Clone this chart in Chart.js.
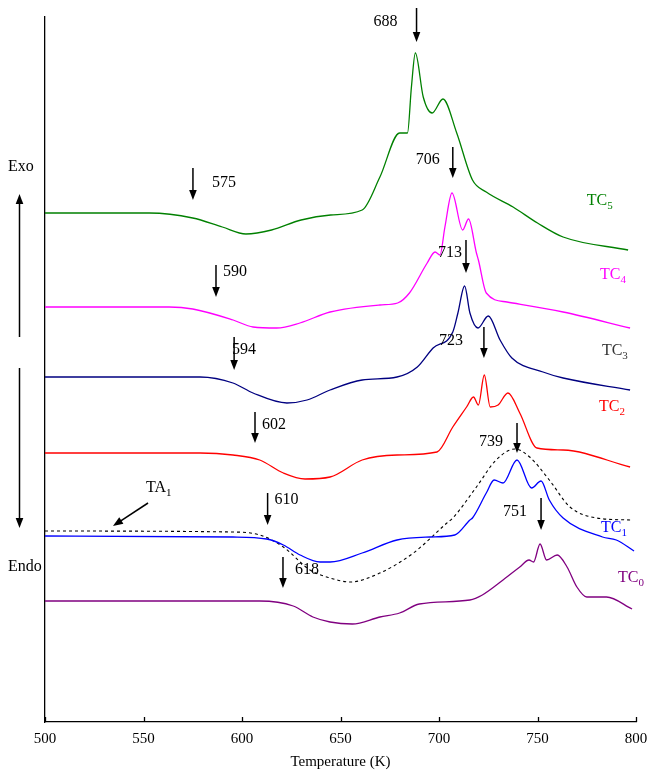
<!DOCTYPE html>
<html>
<head>
<meta charset="utf-8">
<script src="https://cdn.jsdelivr.net/npm/chart.js@4.4.0/dist/chart.umd.min.js"></script>
<style>
  html, body { margin: 0; padding: 0; background: #fff; }
  #wrap { width: 648px; height: 771px; }
</style>
</head>
<body>
<div id="wrap"><canvas id="dsc" width="648" height="771"></canvas></div>
<script>
// Temperature (K) and heat-flow signal (arbitrary units, curves stacked with offsets)
const tc5T = [500, 530, 553, 575, 590, 602, 615, 630, 645, 661, 670, 680, 684, 686, 688, 692, 696.5, 702, 709, 717, 724, 737.6, 750, 763, 796];
const tc5Y = [509, 509, 509, 504, 495, 488, 492, 502, 507, 512, 545, 589, 589, 635, 669, 625, 609, 623, 589, 542, 530, 515, 499, 485, 472];

const tc4T = [500, 563, 575, 595.5, 605.6, 617.6, 629.4, 644.7, 670, 679, 685, 694, 698, 700.5, 703, 706.6, 712, 715, 719, 720, 724, 734.5, 763, 797];
const tc4Y = [415, 415, 413, 402, 395, 394, 399, 410, 417, 419, 429, 459, 470, 467, 495, 529, 492, 503, 469, 462, 429, 420, 410, 394];

const tc3T = [500, 578.7, 595.4, 605.6, 622.8, 633, 644.7, 661, 678.7, 689, 697, 707, 709.6, 713, 715.7, 719.8, 725, 731, 737, 752.8, 763, 797];
const tc3Y = [345, 345, 339, 329, 319, 322, 332, 342, 345, 355, 374, 390, 409, 436, 409, 394, 406, 382, 364, 350, 344, 332];

const tc2T = [500, 578.7, 595.4, 609, 621, 632, 644.7, 661, 678.7, 699, 707, 714, 717.5, 720, 723, 726, 730, 735, 741, 749.7, 763, 797];
const tc2Y = [269, 269, 267, 262, 249, 243, 245, 262, 267, 270, 295, 315, 325, 317, 347, 315, 317, 329, 309, 274, 272, 255];

const tc1T = [500, 595.4, 612.5, 621, 629.5, 639.6, 644.7, 661, 678.7, 695.4, 708, 715.7, 717, 724, 728, 732.5, 739.6, 747, 751.8, 756, 763, 783, 790, 799];
const tc1Y = [186, 185, 183, 177, 167, 160, 160, 169, 182, 185, 187, 202, 204, 229, 242, 239, 262, 234, 241, 222, 204, 185, 182, 171];

const ta1T = [500, 595, 609, 621, 634.5, 644.7, 654.8, 670, 687, 704, 707, 719, 729, 738.6, 746, 756, 766.5, 780, 797];
const ta1Y = [191, 190, 187, 175, 152, 144, 140, 149, 169, 199, 204, 235, 262, 273, 265, 242, 215, 204, 202];

const tc0T = [500, 609, 626, 636, 644.7, 656, 670, 680, 690, 715.7, 722, 732.5, 741, 745.7, 748, 751.3, 754.6, 760, 765, 770, 775, 785, 798];
const tc0Y = [121, 121, 116, 105, 100, 98, 105, 109, 118, 122, 127, 142, 155, 162, 160, 178, 162, 167, 155, 135, 125, 125, 113];

const xTicks = [500, 550, 600, 650, 700, 750, 800];

// marked temperatures: arrow position (t), arrow top and tip on the signal scale
const markT     = [688.6, 575.1, 707, 586.8, 713.7, 596, 722.8, 606.6, 613, 739.6, 751.8, 620.8];
const markTop   = [714, 554, 575, 457, 482, 385, 395, 310, 229, 299, 224, 165];
const markTip   = [680, 522, 544, 425, 449, 352, 364, 279, 197, 269, 192, 134];
const markText  = ['688', '575', '706', '590', '713', '594', '723', '602', '610', '739', '751', '618'];

// curve names
const curveNames = ['TC', 'TC', 'TC', 'TC', 'TC', 'TC', 'TA'];
const curveSubs  = ['5', '4', '3', '2', '1', '0', '1'];
const nameT      = [775, 781.7, 782.7, 781.2, 782.2, 790.9, 551.3];
const nameY      = [521, 447, 371, 315, 194, 144, 234];

const toPts = (xs, ys) => xs.map((x, i) => ({ x: x, y: ys[i] }));

const FONT = '"Liberation Serif", "Times New Roman", serif';

function line(label, xs, ys, color, dash) {
    return {
        label,
        data: toPts(xs, ys),
        borderColor: color,
        borderWidth: dash ? 1.1 : 1.3,
        borderDash: dash || [],
        pointRadius: 0,
        cubicInterpolationMode: 'monotone',
        fill: false
    };
}

function arrow(ctx, x1, y1, x2, y2) {
    const a = Math.atan2(y2 - y1, x2 - x1);
    const len = 10, w = 3.8;
    ctx.beginPath();
    ctx.moveTo(x1, y1);
    ctx.lineTo(x2 - Math.cos(a) * (len - 2), y2 - Math.sin(a) * (len - 2));
    ctx.stroke();
    ctx.beginPath();
    ctx.moveTo(x2, y2);
    ctx.lineTo(x2 - Math.cos(a) * len - Math.sin(a) * w, y2 - Math.sin(a) * len + Math.cos(a) * w);
    ctx.lineTo(x2 - Math.cos(a) * len + Math.sin(a) * w, y2 - Math.sin(a) * len - Math.cos(a) * w);
    ctx.closePath();
    ctx.fill();
}

// label offsets relative to arrow top (px)
const markDx    = [-19, 19, -13, 7, -4, -2, -21, 7, 7, -14, -14, 12];
const markDy    = [14, 15, 13, 7, 13, 13, 14, 13, 7, 19, 14, 13];
const markAlign = ['right', 'left', 'right', 'left', 'right', 'left', 'right', 'left', 'left', 'right', 'right', 'left'];
const nameColors = ['#008000', '#ff00ff', '#333333', '#ff0000', '#0000ff', '#800080', '#000000'];

const annotations = {
    id: 'annotations',
    afterDatasetsDraw(chart) {
        const ctx = chart.ctx;
        const xs = chart.scales.x, ys = chart.scales.y;
        const area = chart.chartArea;
        ctx.save();
        ctx.strokeStyle = '#000';
        ctx.fillStyle = '#000';
        ctx.lineWidth = 1.3;

        // inward tick marks on the temperature axis
        xTicks.forEach(t => {
            const px = Math.round(xs.getPixelForValue(t)) + 0.5;
            ctx.beginPath();
            ctx.moveTo(px, area.bottom);
            ctx.lineTo(px, area.bottom - 5);
            ctx.stroke();
        });

        // peak / onset arrows
        ctx.font = '16px ' + FONT;
        ctx.textBaseline = 'middle';
        markT.forEach((t, i) => {
            const px = xs.getPixelForValue(t);
            const top = ys.getPixelForValue(markTop[i]);
            const tip = ys.getPixelForValue(markTip[i]);
            ctx.lineWidth = 1.5;
            arrow(ctx, px, top, px, tip);
            ctx.textAlign = markAlign[i];
            ctx.fillText(markText[i], px + markDx[i], top + markDy[i]);
        });

        // curve names with subscripts
        curveNames.forEach((n, i) => {
            const px = xs.getPixelForValue(nameT[i]);
            const py = ys.getPixelForValue(nameY[i]);
            ctx.fillStyle = nameColors[i];
            ctx.textAlign = 'left';
            ctx.font = '16px ' + FONT;
            ctx.fillText(n, px, py);
            const w = ctx.measureText(n).width;
            ctx.font = '11px ' + FONT;
            ctx.fillText(curveSubs[i], px + w, py + 5);
        });

        // TA1 pointer
        ctx.fillStyle = '#000';
        ctx.lineWidth = 1.5;
        arrow(ctx, xs.getPixelForValue(552.3), ys.getPixelForValue(219),
                   xs.getPixelForValue(534.5), ys.getPixelForValue(196));

        // Exo / Endo direction
        ctx.font = '16px ' + FONT;
        ctx.textAlign = 'left';
        ctx.fillText('Exo', 8, 167);
        ctx.fillText('Endo', 8, 567);
        arrow(ctx, 19.5, 337, 19.5, 194);
        arrow(ctx, 19.5, 368, 19.5, 528);
        ctx.restore();
    }
};

new Chart(document.getElementById('dsc').getContext('2d'), {
    type: 'line',
    data: {
        datasets: [
            line('TC5', tc5T, tc5Y, '#008000'),
            line('TC4', tc4T, tc4Y, '#ff00ff'),
            line('TC3', tc3T, tc3Y, '#000080'),
            line('TC2', tc2T, tc2Y, '#ff0000'),
            line('TC1', tc1T, tc1Y, '#0000ff'),
            line('TA1', ta1T, ta1Y, '#000000', [3, 3]),
            line('TC0', tc0T, tc0Y, '#800080')
        ]
    },
    options: {
        responsive: false,
        animation: false,
        devicePixelRatio: 1,
        layout: { padding: { top: 17, right: 12, left: 0, bottom: 0 } },
        plugins: {
            legend: { display: false },
            tooltip: { enabled: false }
        },
        scales: {
            x: {
                type: 'linear',
                min: 500,
                max: 800,
                afterBuildTicks: s => { s.ticks = xTicks.map(v => ({ value: v })); },
                afterFit: s => { s.height = 49; s.paddingLeft = 0; s.paddingRight = 0; },
                grid: { display: false, drawTicks: false },
                border: { display: true, color: '#000', width: 1.3 },
                ticks: { color: '#000', font: { family: FONT, size: 15 }, padding: 8, maxRotation: 0 },
                title: {
                    display: true,
                    text: 'Temperature (K)',
                    color: '#000',
                    font: { family: FONT, size: 15 },
                    padding: { top: 8, bottom: 0 }
                }
            },
            y: {
                min: 0,
                max: 705,
                afterFit: s => { s.width = 45; s.paddingTop = 0; s.paddingBottom = 0; },
                grid: { display: false, drawTicks: false },
                border: { display: true, color: '#000', width: 1.3 },
                ticks: { display: false }
            }
        }
    },
    plugins: [annotations]
});
</script>
</body>
</html>
